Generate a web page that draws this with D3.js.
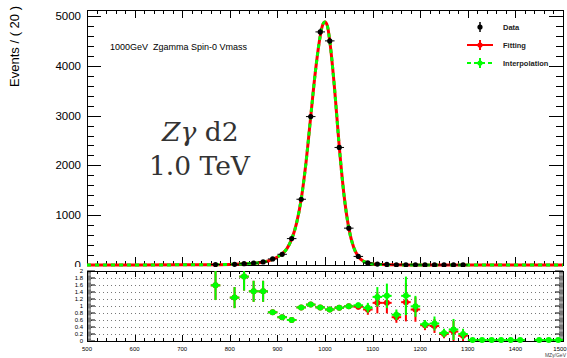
<!DOCTYPE html>
<html>
<head>
<meta charset="utf-8">
<script src="https://cdn.jsdelivr.net/npm/d3@7"></script>
<style>
  body { margin: 0; background: #fff; }
  svg { display: block; }
  text { font-family: "Liberation Sans", Arial, sans-serif; }
  text.serif { font-family: "DejaVu Serif", serif; }
</style>
</head>
<body>
<svg id="chart" width="567" height="358"></svg>
<script>
// ---- Data: Z-gamma spin-0 signal, M = 1000 GeV, 20 GeV bins ----
const binCenters = [770, 810, 830, 850, 870, 890, 910, 930, 950, 970, 990, 1010, 1030, 1050, 1070, 1090, 1110, 1130, 1150, 1170, 1190, 1210, 1230, 1250, 1270, 1290];
const dataCounts = [9, 14, 26, 38, 62, 122, 215, 530, 1320, 2980, 4680, 4500, 2360, 740, 172, 42, 19, 11, 4, 4, 3, 1, 1, 1, 1, 1];
const dataErrors = [3, 4, 5, 6, 8, 11, 15, 23, 36, 55, 68, 67, 49, 27, 13, 6, 4, 3, 2, 2, 2, 1, 1, 1, 1, 1];

// Fitted line shape and interpolated template, sampled in mass
const curveMass   = [500, 700, 750, 800, 820, 840, 860, 870, 880, 890, 900, 910, 920, 930, 940, 950, 960, 970, 980, 990, 995, 1000, 1005, 1010, 1020, 1030, 1040, 1050, 1060, 1070, 1080, 1090, 1100, 1120, 1150, 1200, 1300, 1500];
const fitCurve    = [0, 3, 5, 12, 18, 28, 45, 60, 80, 115, 160, 225, 330, 520, 830, 1320, 2050, 2980, 3900, 4600, 4820, 4880, 4800, 4500, 3550, 2370, 1400, 740, 360, 170, 80, 40, 20, 8, 3, 1, 0, 0];
const interpCurve = [0, 3, 5, 12, 18, 28, 45, 60, 80, 115, 160, 225, 330, 520, 830, 1320, 2050, 2980, 3900, 4600, 4820, 4880, 4800, 4500, 3550, 2370, 1400, 740, 360, 170, 80, 40, 20, 8, 3, 1, 0, 0];

// Ratio panel: data relative to the fit (red) and to the interpolation (green)
const ratioMass       = [770, 810, 830, 850, 870, 890, 910, 930, 950, 970, 990, 1010, 1030, 1050, 1070, 1090, 1110, 1130, 1150, 1170, 1190, 1210, 1230, 1250, 1270, 1290];
const ratioFit        = [1.59, 1.24, 1.84, 1.42, 1.42, 0.82, 0.68, 0.60, 0.96, 1.04, 0.96, 0.90, 0.95, 0.99, 0.98, 0.90, 1.09, 1.09, 0.68, 1.11, 0.90, 0.45, 0.43, 0.20, 0.27, 0.15];
const ratioFitErr     = [0.42, 0.30, 0.40, 0.30, 0.30, 0.06, 0.05, 0.04, 0.04, 0.03, 0.03, 0.03, 0.03, 0.05, 0.08, 0.15, 0.30, 0.30, 0.16, 0.55, 0.35, 0.14, 0.20, 0.12, 0.30, 0.15];
const interpMass      = [770, 810, 830, 850, 870, 890, 910, 930, 950, 970, 990, 1010, 1030, 1050, 1070, 1090, 1110, 1130, 1150, 1170, 1190, 1210, 1230, 1250, 1270, 1290, 1310, 1330, 1350, 1370, 1390, 1410, 1450, 1470, 1490];
const ratioInterp     = [1.59, 1.24, 1.84, 1.42, 1.42, 0.82, 0.68, 0.60, 0.96, 1.04, 0.96, 0.90, 0.95, 0.99, 1.02, 0.95, 1.26, 1.29, 0.75, 1.29, 0.99, 0.48, 0.50, 0.23, 0.33, 0.20, 0.03, 0.03, 0.03, 0.03, 0.03, 0.03, 0.03, 0.03, 0.03];
const ratioInterpErr  = [0.42, 0.30, 0.40, 0.30, 0.30, 0.06, 0.05, 0.04, 0.04, 0.03, 0.03, 0.03, 0.03, 0.05, 0.08, 0.14, 0.28, 0.35, 0.15, 0.55, 0.30, 0.12, 0.20, 0.12, 0.30, 0.15, 0.01, 0.01, 0.01, 0.01, 0.01, 0.01, 0.01, 0.01, 0.01];

const yTicksMain  = [0, 1000, 2000, 3000, 4000, 5000];
const yTicksRatio = [0, 0.2, 0.4, 0.6, 0.8, 1, 1.2, 1.4, 1.6, 1.8, 2];
const xTicks      = [500, 600, 700, 800, 900, 1000, 1100, 1200, 1300, 1400, 1500];
const binHalfWidth = 10;

const RED = "#ff0000", GREEN = "#00ff00";

const svg = d3.select("#chart");

// ---- Layout ----
const L = 87, R = 563;
const upPad = { t: 10, b: 265 };
const loPad = { t: 271, b: 341 };

const x = d3.scaleLinear().domain([500, 1500]).range([L, R]);
const y = d3.scaleLinear().domain([0, 5120]).range([upPad.b, upPad.t]);
const yr = d3.scaleLinear().domain([0, 2]).range([loPad.b, loPad.t]);

// ================= Upper pad =================
const up = svg.append("g");

// y axis labels
up.selectAll("text.ylab").data(yTicksMain).join("text")
  .attr("x", L - 6).attr("y", d => y(d) + 4)
  .attr("text-anchor", "end").attr("font-size", 11.5).attr("fill", "#000")
  .text(d => d);

// axis title
up.append("text")
  .attr("transform", `translate(19,6) rotate(-90)`)
  .attr("text-anchor", "end").attr("font-size", 13).attr("fill", "#000")
  .text("Events / ( 20 )");

// tick marks (left/right: major 1000, minor 200; top/bottom: major 100, minor 20)
const tickG = up.append("g").attr("stroke", "#000").attr("stroke-width", 1);
d3.range(0, 5001, 200).forEach(v => {
  const len = v % 1000 === 0 ? 14 : 7;
  const yy = Math.round(y(v)) + 0.5;
  tickG.append("line").attr("x1", L).attr("x2", L + len).attr("y1", yy).attr("y2", yy);
  tickG.append("line").attr("x1", R).attr("x2", R - len).attr("y1", yy).attr("y2", yy);
});
d3.range(500, 1501, 20).forEach(v => {
  const len = v % 100 === 0 ? 8 : 4;
  const xx = Math.round(x(v)) + 0.5;
  tickG.append("line").attr("x1", xx).attr("x2", xx).attr("y1", upPad.b).attr("y2", upPad.b - len);
  tickG.append("line").attr("x1", xx).attr("x2", xx).attr("y1", upPad.t).attr("y2", upPad.t + len);
});

// frame
up.append("rect").attr("x", L + 0.5).attr("y", upPad.t + 0.5)
  .attr("width", R - L).attr("height", upPad.b - upPad.t)
  .attr("fill", "none").attr("stroke", "#000").attr("stroke-width", 1);

// fitted and interpolated shapes
const line = d3.line().x(d => x(d[0])).y(d => y(d[1])).curve(d3.curveMonotoneX);
up.append("path").datum(d3.zip(curveMass, fitCurve))
  .attr("d", line).attr("fill", "none").attr("stroke", RED).attr("stroke-width", 3);
up.append("path").datum(d3.zip(curveMass, interpCurve))
  .attr("d", line).attr("fill", "none").attr("stroke", GREEN).attr("stroke-width", 3)
  .attr("stroke-dasharray", "4,4");

// data points
const dataG = up.append("g");
binCenters.forEach((m, i) => {
  const cx = x(m), cy = y(dataCounts[i]);
  dataG.append("line").attr("x1", x(m - binHalfWidth)).attr("x2", x(m + binHalfWidth))
    .attr("y1", cy).attr("y2", cy).attr("stroke", "#000").attr("stroke-width", 1);
  dataG.append("line").attr("x1", cx).attr("x2", cx)
    .attr("y1", y(dataCounts[i] - dataErrors[i])).attr("y2", y(dataCounts[i] + dataErrors[i]))
    .attr("stroke", "#000").attr("stroke-width", 1);
  dataG.append("circle").attr("cx", cx).attr("cy", cy).attr("r", 2.6).attr("fill", "#000");
});

// labels inside the frame
up.append("text").attr("x", 110).attr("y", 50).attr("font-size", 9)
  .style("white-space", "pre")
  .text("1000GeV  Zgamma Spin-0 Vmass");

up.append("text").attr("class", "serif").attr("x", 162).attr("y", 141)
  .attr("font-size", 26.5).attr("fill", "#333")
  .html('<tspan font-style="italic">Zγ</tspan> d2');
up.append("text").attr("class", "serif").attr("x", 149).attr("y", 175)
  .attr("font-size", 26.5).attr("fill", "#333")
  .text("1.0 TeV");

// legend
const legend = [
  { label: "Data", color: "#000", line: false, dash: null, y: 27 },
  { label: "Fitting", color: RED, line: true, dash: null, y: 45 },
  { label: "Interpolation", color: GREEN, line: true, dash: "4,3", y: 63 }
];
const lg = up.append("g");
legend.forEach(d => {
  const mx = 480;
  if (d.line) {
    lg.append("line").attr("x1", mx - 13).attr("x2", mx + 13).attr("y1", d.y).attr("y2", d.y)
      .attr("stroke", d.color).attr("stroke-width", 2).attr("stroke-dasharray", d.dash);
  }
  lg.append("line").attr("x1", mx).attr("x2", mx).attr("y1", d.y - 5).attr("y2", d.y + 5)
    .attr("stroke", d.color).attr("stroke-width", d.line ? 2 : 1.5);
  lg.append("circle").attr("cx", mx).attr("cy", d.y).attr("r", 2.6).attr("fill", d.color);
  lg.append("text").attr("x", 503).attr("y", d.y + 3).attr("font-size", 7.5)
    .attr("font-weight", "bold").attr("fill", "#222").text(d.label);
});

// ================= Lower (ratio) pad =================
const lo = svg.append("g");
lo.append("rect").attr("x", 0).attr("y", 267).attr("width", 567).attr("height", 91).attr("fill", "#fff");

// dotted grid
lo.selectAll("line.grid").data(yTicksRatio.filter(v => v > 0 && v < 2)).join("line")
  .attr("x1", L).attr("x2", R).attr("y1", d => Math.round(yr(d)) + 0.5).attr("y2", d => Math.round(yr(d)) + 0.5)
  .attr("stroke", "#777").attr("stroke-width", 1).attr("stroke-dasharray", "1,3");

// ticks
const lt = lo.append("g").attr("stroke", "#000").attr("stroke-width", 0.6);
d3.range(0, 2.0001, 0.04).forEach(v => {
  const major = Math.abs(v * 5 - Math.round(v * 5)) < 1e-6;
  const len = major ? 8 : 4;
  const yy = yr(v);
  lt.append("line").attr("x1", L).attr("x2", L + len).attr("y1", yy).attr("y2", yy).attr("stroke-width", major ? 1 : 0.6);
  lt.append("line").attr("x1", R).attr("x2", R - len).attr("y1", yy).attr("y2", yy).attr("stroke-width", major ? 1 : 0.6);
});
d3.range(500, 1501, 20).forEach(v => {
  const len = v % 100 === 0 ? 6 : 3;
  const xx = Math.round(x(v)) + 0.5;
  lt.append("line").attr("x1", xx).attr("x2", xx).attr("y1", loPad.b).attr("y2", loPad.b - len).attr("stroke-width", 1);
  lt.append("line").attr("x1", xx).attr("x2", xx).attr("y1", loPad.t).attr("y2", loPad.t + len).attr("stroke-width", 1);
});

lo.append("rect").attr("x", L + 0.5).attr("y", loPad.t + 0.5)
  .attr("width", R - L).attr("height", loPad.b - loPad.t)
  .attr("fill", "none").attr("stroke", "#000").attr("stroke-width", 1);

// tick labels
lo.selectAll("text.yl").data(yTicksRatio).join("text")
  .attr("x", L - 4).attr("y", d => yr(d) + 2)
  .attr("text-anchor", "end").attr("font-size", 6).text(d => d);
lo.selectAll("text.xl").data(xTicks).join("text")
  .attr("x", d => Math.min(x(d), 567 - 7)).attr("y", 351)
  .attr("text-anchor", "middle").attr("font-size", 6).text(d => d);
lo.append("text").attr("x", 566).attr("y", 357).attr("text-anchor", "end")
  .attr("font-size", 5).attr("fill", "#444").text("MZγ/GeV");

// ratio points
function drawRatio(g, masses, vals, errs, color) {
  masses.forEach((m, i) => {
    const cx = x(m), cy = yr(vals[i]);
    const yLo = yr(Math.max(0, vals[i] - errs[i])), yHi = yr(Math.min(2, vals[i] + errs[i]));
    g.append("line").attr("x1", x(m - binHalfWidth)).attr("x2", x(m + binHalfWidth))
      .attr("y1", cy).attr("y2", cy).attr("stroke", color).attr("stroke-width", 2);
    g.append("line").attr("x1", cx).attr("x2", cx).attr("y1", yLo).attr("y2", yHi)
      .attr("stroke", color).attr("stroke-width", 2);
    g.append("circle").attr("cx", cx).attr("cy", cy).attr("r", 3).attr("fill", color);
  });
}
const rg = lo.append("g");
drawRatio(rg, ratioMass, ratioFit, ratioFitErr, RED);
drawRatio(rg, interpMass, ratioInterp, ratioInterpErr, GREEN);
</script>
</body>
</html>
